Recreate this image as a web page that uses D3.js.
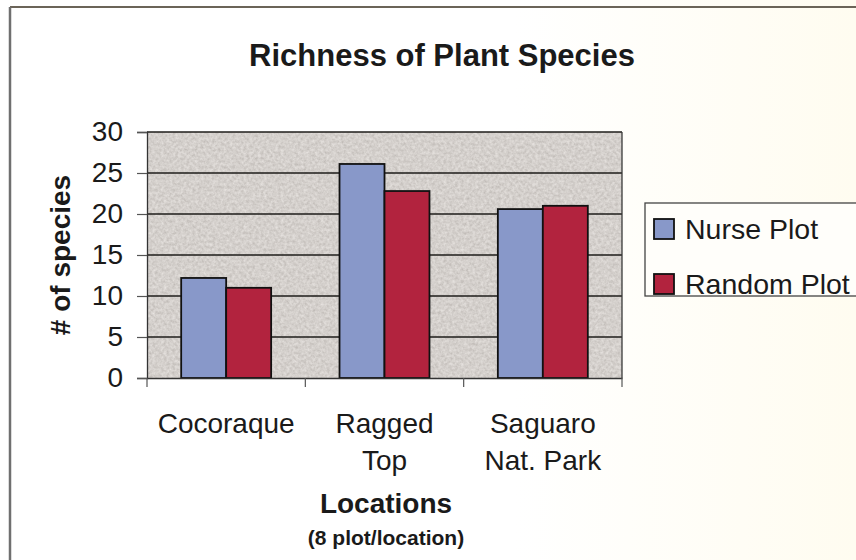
<!DOCTYPE html>
<html>
<head>
<meta charset="utf-8">
<script src="https://cdn.jsdelivr.net/npm/d3@7"></script>
<style>
  body { margin: 0; background: #fff; }
  text { font-family: "Liberation Sans", Arial, Helvetica, sans-serif; fill: #1a1a1a; }
</style>
</head>
<body>
<div id="chart"></div>
<script>
// data
const locations = ["Cocoraque", "Ragged Top", "Saguaro Nat. Park"];
const locationLines = [["Cocoraque"], ["Ragged", "Top"], ["Saguaro", "Nat. Park"]];
const seriesNames = ["Nurse Plot", "Random Plot"];
const nursePlot = [12.2, 26.1, 20.6];
const randomPlot = [11.0, 22.8, 21.0];
const yTicks = [0, 5, 10, 15, 20, 25, 30];

const W = 856, H = 560;
const margin = {top: 132, right: 234, bottom: 182, left: 147},
      width = W - margin.left - margin.right,
      height = H - margin.top - margin.bottom;

const svg = d3.select("#chart").append("svg").attr("width", W).attr("height", H);
const defs = svg.append("defs");

// paper tint + scan border
const grad = defs.append("linearGradient").attr("id", "paper").attr("x1", 0).attr("x2", 1);
grad.append("stop").attr("offset", "0.6").attr("stop-color", "#ffffff");
grad.append("stop").attr("offset", "1").attr("stop-color", "#fffcf0");
svg.append("rect").attr("width", W).attr("height", H).attr("fill", "url(#paper)");
svg.append("line").attr("x1", 10).attr("x2", W).attr("y1", 7).attr("y2", 7).attr("stroke", "#6b6458").attr("stroke-width", 2);
svg.append("line").attr("x1", 10).attr("x2", 10).attr("y1", 7).attr("y2", H).attr("stroke", "#6f6f6f").attr("stroke-width", 2.5);

// mottled texture for plot area
const filt = defs.append("filter").attr("id", "grain").attr("x", 0).attr("y", 0).attr("width", 1).attr("height", 1);
filt.append("feTurbulence").attr("type", "fractalNoise").attr("baseFrequency", 0.35).attr("numOctaves", 3).attr("seed", 7);
filt.append("feColorMatrix").attr("type", "matrix")
    .attr("values", "0.34 0 0 0 0.49  0.34 0 0 0 0.46  0.34 0 0 0 0.435  0 0 0 0 1");

const g = svg.append("g").attr("transform", `translate(${margin.left},${margin.top})`);

// scales
const x = d3.scaleBand().domain(locations).range([0, width]).padding(0);
const xs = d3.scaleBand().domain(seriesNames).range([0, x.bandwidth()]).paddingInner(0).paddingOuter(0.76);
const y = d3.scaleLinear().domain([0, 30]).range([height, 0]);
const color = d3.scaleOrdinal().domain(seriesNames).range(["#8898c9", "#b2233e"]);

// plot background
g.append("rect").attr("width", width).attr("height", height).attr("fill", "#a8a09a");
g.append("rect").attr("width", width).attr("height", height).attr("fill", "#a8a09a").attr("filter", "url(#grain)");

// gridlines
g.append("g").selectAll("line").data(yTicks.filter(d => d > 0)).join("line")
  .attr("x1", 0).attr("x2", width).attr("y1", d => y(d)).attr("y2", d => y(d))
  .attr("stroke", "#1e1c1a").attr("stroke-width", 1.3);

// plot border (right side)
g.append("line").attr("x1", width).attr("x2", width).attr("y1", 0).attr("y2", height).attr("stroke", "#3a3a3a").attr("stroke-width", 1.3);

// bars
const rows = locations.map((loc, i) => ({loc, values: [
  {name: seriesNames[0], v: nursePlot[i]},
  {name: seriesNames[1], v: randomPlot[i]}
]}));
g.append("g").selectAll("g").data(rows).join("g")
  .attr("transform", d => `translate(${x(d.loc)},0)`)
  .selectAll("rect").data(d => d.values).join("rect")
  .attr("x", d => xs(d.name)).attr("width", xs.bandwidth())
  .attr("y", d => y(d.v)).attr("height", d => height - y(d.v))
  .attr("fill", d => color(d.name)).attr("stroke", "#111").attr("stroke-width", 1.8);

// y axis
const yAxis = g.append("g").call(d3.axisLeft(y).tickValues(yTicks).tickSize(10).tickPadding(14));
yAxis.select(".domain").attr("stroke", "#333").attr("stroke-width", 1.3);
yAxis.selectAll(".tick line").attr("stroke", "#555").attr("stroke-width", 1.2);
yAxis.selectAll("text").style("font-size", "28px").attr("fill", "#1a1a1a");

// x axis
const xAxis = g.append("g").attr("transform", `translate(0,${height})`)
  .call(d3.axisBottom(x).tickSize(0).tickFormat(""));
xAxis.select(".domain").attr("stroke", "#333").attr("stroke-width", 1.3);
g.append("g").attr("transform", `translate(0,${height})`).selectAll("line")
  .data(locations.map(d => x(d)).concat([width])).join("line")
  .attr("x1", d => d).attr("x2", d => d).attr("y1", 0).attr("y2", 9)
  .attr("stroke", "#555").attr("stroke-width", 1.2);

// category labels
locations.forEach((loc, i) => {
  const cx = x(loc) + x.bandwidth() / 2;
  const t = g.append("text").attr("text-anchor", "middle")
    .attr("x", cx).attr("y", height + 55).style("font-size", "28px");
  locationLines[i].forEach((ln, j) => {
    t.append("tspan").attr("x", cx).attr("dy", j === 0 ? 0 : 37).text(ln);
  });
});

// titles
svg.append("text").attr("text-anchor", "middle").attr("x", 442).attr("y", 66)
   .style("font-size", "31px").style("font-weight", "bold").text("Richness of Plant Species");
svg.append("text").attr("text-anchor", "middle").attr("x", 386).attr("y", 513)
   .style("font-size", "28px").style("font-weight", "bold").text("Locations");
svg.append("text").attr("text-anchor", "middle").attr("x", 386).attr("y", 545)
   .style("font-size", "21px").style("font-weight", "bold").text("(8 plot/location)");
svg.append("text").attr("text-anchor", "middle").attr("transform", "translate(70,255) rotate(-90)")
   .style("font-size", "28px").style("font-weight", "bold").text("# of species");

// legend
const lg = svg.append("g").attr("transform", "translate(645,203)");
lg.append("rect").attr("width", 230).attr("height", 93).attr("fill", "#fffefa").attr("stroke", "#444").attr("stroke-width", 1.3);
const li = lg.selectAll("g").data(seriesNames).join("g").attr("transform", (d, i) => `translate(9,${16 + i * 55})`);
li.append("rect").attr("width", 20).attr("height", 20).attr("fill", d => color(d)).attr("stroke", "#111").attr("stroke-width", 1.8);
li.append("text").attr("x", 31).attr("y", 20).style("font-size", "28.5px").text(d => d);
</script>
</body>
</html>
